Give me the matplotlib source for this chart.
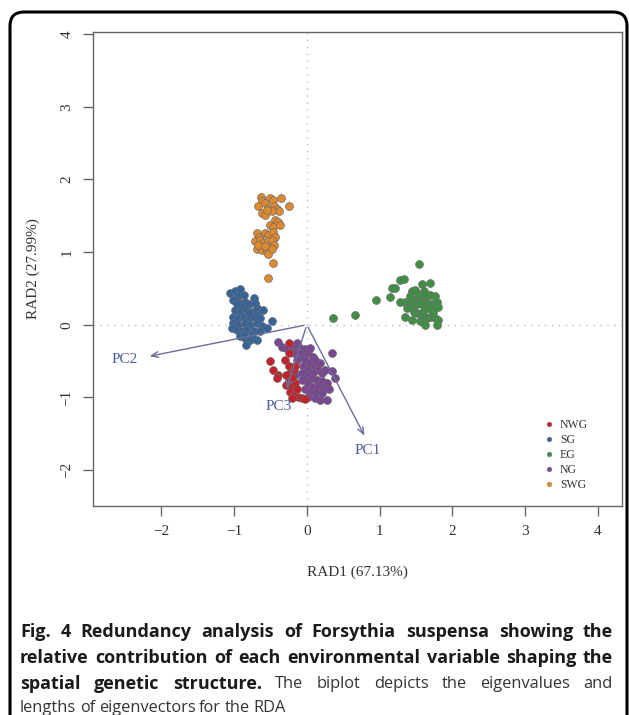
import matplotlib
matplotlib.use('Agg')
import matplotlib.pyplot as plt
from matplotlib.patches import FancyBboxPatch
from matplotlib.lines import Line2D

# group scores on the first two RDA axes
nwg_x = [-0.25, -0.50, -0.46, -0.39, -0.41, -0.30, -0.25, -0.23, -0.25, -0.28, -0.21, -0.16,
         -0.23, -0.18, -0.12, -0.07, -0.02, -0.14, -0.21, -0.25, -0.18, -0.28, -0.16, -0.21]
nwg_y = [-0.25, -0.50, -0.62, -0.69, -0.73, -0.48, -0.57, -0.66, -0.76, -0.83, -0.85, -0.80,
         -0.92, -0.96, -0.99, -1.01, -1.02, -0.89, -0.73, -0.39, -0.62, -0.69, -0.57, -1.01]

sg_x = [-1.05, -0.99, -0.92, -0.95, -0.87, -1.01, -0.94, -0.85, -0.89, -0.80, -0.73, -0.99,
        -0.92, -0.83, -0.76, -0.69, -1.01, -0.94, -0.87, -0.80, -0.73, -0.67, -1.01, -0.94,
        -0.85, -0.78, -0.69, -0.62, -1.03, -0.96, -0.89, -0.83, -0.73, -0.64, -0.55, -0.48,
        -0.92, -0.85, -0.78, -0.69, -0.83, -0.87, -0.76, -0.60, -0.80, -0.71, -0.96, -0.64]
sg_y = [0.44, 0.46, 0.49, 0.39, 0.41, 0.34, 0.32, 0.32, 0.25, 0.28, 0.37, 0.21,
        0.18, 0.21, 0.18, 0.23, 0.11, 0.09, 0.11, 0.09, 0.11, 0.14, 0.02, 0.00,
        0.02, 0.00, 0.02, -0.02, -0.05, -0.07, -0.09, -0.07, -0.09, -0.09, -0.05, 0.05,
        -0.16, -0.18, -0.21, -0.21, -0.28, -0.14, -0.14, 0.21, 0.16, 0.30, 0.28, 0.09]

eg_x = [0.36, 0.66, 0.95, 1.15, 1.17, 1.21, 1.28, 1.33, 1.44, 1.49, 1.54, 1.58,
        1.70, 1.61, 1.28, 1.35, 1.42, 1.49, 1.56, 1.63, 1.70, 1.76, 1.79, 1.38,
        1.44, 1.51, 1.58, 1.65, 1.72, 1.81, 1.35, 1.44, 1.51, 1.58, 1.65, 1.56,
        1.70, 1.76, 1.81, 1.63, 1.79, 1.47, 1.61, 1.67, 1.74, 1.54, 1.42]
eg_y = [0.09, 0.14, 0.34, 0.38, 0.51, 0.50, 0.62, 0.63, 0.46, 0.48, 0.83, 0.56,
        0.57, 0.46, 0.32, 0.31, 0.32, 0.34, 0.37, 0.39, 0.41, 0.39, 0.32, 0.23,
        0.23, 0.28, 0.28, 0.30, 0.28, 0.25, 0.11, 0.07, 0.16, 0.14, 0.09, 0.05,
        0.11, 0.09, 0.07, 0.00, 0.00, 0.18, 0.21, 0.23, 0.18, 0.41, 0.39]

ng_x = [-0.39, -0.34, -0.28, -0.21, -0.14, -0.09, -0.02, 0.02, 0.05, 0.09, -0.07, -0.14,
        -0.02, 0.05, 0.11, 0.16, 0.21, -0.05, 0.02, 0.09, -0.07, 0.00, 0.07, 0.14,
        0.21, 0.28, -0.07, 0.02, 0.09, 0.16, 0.23, 0.30, -0.02, 0.05, 0.14, 0.21,
        0.02, 0.11, 0.28, 0.34, 0.39, 0.25, 0.18, 0.34, -0.12, -0.18, 0.11, 0.18, -0.16]
ng_y = [-0.23, -0.30, -0.32, -0.30, -0.25, -0.32, -0.34, -0.39, -0.32, -0.44, -0.41, -0.48,
        -0.48, -0.53, -0.57, -0.62, -0.66, -0.57, -0.62, -0.66, -0.66, -0.71, -0.73, -0.76,
        -0.78, -0.80, -0.76, -0.80, -0.85, -0.85, -0.87, -0.89, -0.89, -0.92, -0.92, -0.94,
        -0.99, -1.01, -1.03, -0.39, -0.73, -0.62, -0.53, -0.64, -0.37, -0.39, -0.48, -1.03, -0.69]

swg_x = [-0.63, -0.62, -0.50, -0.47, -0.36, -0.25, -0.67, -0.57, -0.53, -0.45, -0.41, -0.38,
         -0.48, -0.62, -0.58, -0.55, -0.44, -0.40, -0.50, -0.46, -0.37, -0.69, -0.66, -0.57,
         -0.53, -0.47, -0.44, -0.71, -0.64, -0.60, -0.53, -0.48, -0.45, -0.69, -0.62, -0.55,
         -0.53, -0.48, -0.67, -0.58, -0.46, -0.54]
swg_y = [1.76, 1.71, 1.75, 1.72, 1.75, 1.63, 1.64, 1.67, 1.61, 1.64, 1.60, 1.57,
         1.57, 1.54, 1.51, 1.58, 1.44, 1.41, 1.38, 1.35, 1.38, 1.26, 1.21, 1.26,
         1.24, 1.28, 1.21, 1.15, 1.17, 1.12, 1.15, 1.17, 1.10, 1.05, 1.03, 1.01,
         0.98, 1.05, 1.10, 1.08, 0.85, 0.64]

# environmental vectors
vec_names = ['PC1', 'PC2', 'PC3']
vec_x = [0.81, -2.20, -0.29]
vec_y = [-1.56, -0.44, -0.92]
lab_x = [0.84, -2.50, -0.39]
lab_y = [-1.73, -0.48, -1.12]

groups = ['NWG', 'SG', 'EG', 'NG', 'SWG']
colors = {'NWG': '#c4222b', 'SG': '#33649b', 'EG': '#3f8f45', 'NG': '#7a4592', 'SWG': '#e08a2e'}

xticks = [-2, -1, 0, 1, 2, 3, 4]
yticks = [-2, -1, 0, 1, 2, 3, 4]

caption = [
    [('Fig. 4 Redundancy analysis of Forsythia suspensa showing the', 'bold')],
    [('relative contribution of each environmental variable shaping the', 'bold')],
    [('spatial genetic structure.', 'bold'), ('The biplot depicts the eigenvalues and', 'normal')],
    [('lengths of eigenvectors for the RDA', 'normal')],
]

serif = 'Liberation Serif'

fig = plt.figure(figsize=(6.29, 7.15), dpi=100)
ax = fig.add_axes([93 / 629, 1 - 505.7 / 715, (621.7 - 93) / 629, (505.7 - 32) / 715])

ax.axhline(0, color='#bbbbbb', lw=1, ls=(0, (1, 4)), zorder=1)
ax.axvline(0, color='#bbbbbb', lw=1, ls=(0, (1, 4)), zorder=1)

pts = {'SWG': (swg_x, swg_y), 'SG': (sg_x, sg_y), 'EG': (eg_x, eg_y),
       'NG': (ng_x, ng_y), 'NWG': (nwg_x, nwg_y)}
for g in ['SWG', 'SG', 'EG', 'NG', 'NWG']:
    ax.scatter(pts[g][0], pts[g][1], s=32, color=colors[g], edgecolors='#6b6b6b',
               linewidths=0.5, zorder=3)

for i in range(len(vec_names)):
    ax.annotate('', xy=(vec_x[i], vec_y[i]), xytext=(0, 0),
                arrowprops=dict(arrowstyle='->,head_length=0.5,head_width=0.2',
                                color='#6a6c9e', lw=1), zorder=4)
    ax.text(lab_x[i], lab_y[i], vec_names[i], color='#4a5c9c', fontsize=11,
            family=serif, ha='center', va='center', zorder=5)

ax.set_xlim(-2.94, 4.33)
ax.set_ylim(-2.49, 4.03)
ax.set_xticks(xticks)
ax.set_yticks(yticks)
ax.tick_params(length=7, width=1, color='#666666', labelcolor='#333333', pad=7,
               labelsize=11)
ax.tick_params(axis='y', labelrotation=90)
for lab in ax.get_yticklabels():
    lab.set_va('center')
for lab in ax.get_xticklabels() + ax.get_yticklabels():
    lab.set_family(serif)
for sp in ax.spines.values():
    sp.set_color('#666666')
    sp.set_linewidth(1)

ax.set_xlabel('RAD1 (67.13%)', family=serif, fontsize=11, color='#333333', labelpad=20)
ax.set_ylabel('RAD2 (27.99%)', family=serif, fontsize=11, color='#333333', labelpad=15)

handles = [Line2D([], [], ls='', marker='o', ms=3.5, color=colors[g], mec='#888888',
                  mew=0.3) for g in groups]
ax.legend(handles, groups, loc='upper left', bbox_to_anchor=(0.843, 0.195),
          frameon=False, prop={'family': serif, 'size': 8.5}, handlelength=0.8,
          handletextpad=0.5, labelspacing=0.25, borderpad=0, labelcolor='#333333')

# outer rounded frame
frame = FancyBboxPatch((0.10, -0.3), 6.17, 7.03 + 0.3, boxstyle='round,pad=0,rounding_size=0.14',
                       transform=fig.dpi_scale_trans, fill=False, ec='black', lw=2.2)
fig.patches.append(frame)

# caption, justified between x0 and x1 except for the last line
cap = 'Open Sans'
sizes = {'bold': 13, 'normal': 11.8}
x0, x1 = 20, 613
line_y = [632, 658, 684, 708]
r = fig.canvas.get_renderer()
for li, segs in enumerate(caption):
    words = []
    for s, w in segs:
        for word in s.split(' '):
            words.append((word, w))
    arts = []
    total = 0
    for word, w in words:
        t = fig.text(0, 1 - line_y[li] / 715, word, family=cap, weight=w, fontsize=sizes[w],
                     va='center', color='#1a1a1a' if w == 'bold' else '#333333')
        wpx = t.get_window_extent(renderer=r).width
        arts.append((t, wpx))
        total += wpx
    if li < len(caption) - 1:
        gap = (x1 - x0 - total) / (len(words) - 1)
    else:
        gap = 3.6
    x = x0
    for t, wpx in arts:
        t.set_x(x / 629)
        x += wpx + gap

fig.savefig('out.png', dpi=100)
